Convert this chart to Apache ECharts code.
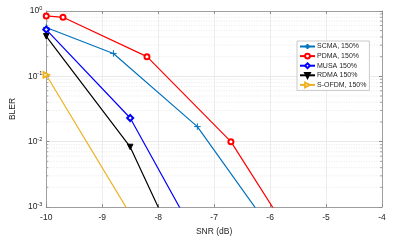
<!DOCTYPE html>
<html><head><meta charset="utf-8">
<script src="https://cdn.jsdelivr.net/npm/echarts@6/dist/echarts.min.js"></script>
<style>html,body{margin:0;padding:0;background:#fff}#c{width:410px;height:241px}</style>
</head><body><div id="c"></div>
<script>
var seriesNames = ['SCMA, 150%', 'PDMA, 150%', 'MUSA 150%', 'RDMA 150%', 'S-OFDM, 150%'];
var snrSCMA = [-10, -8.8, -7.3, -6.0];
var blerSCMA = [0.56, 0.224, 0.017, 0.00047];
var snrPDMA = [-10, -9.7, -8.2, -6.7, -5.7];
var blerPDMA = [0.84, 0.80, 0.20, 0.010, 0.00045];
var snrMUSA = [-10, -8.5, -7.5];
var blerMUSA = [0.52, 0.023, 0.00065];
var snrRDMA = [-10, -8.5, -7.5];
var blerRDMA = [0.41, 0.0083, 0.00012];
var snrSOFDM = [-10, -8.5];
var blerSOFDM = [0.105, 0.00078];
var xTicks = [-10, -9, -8, -7, -6, -5, -4];
var yMajor = [0.001, 0.01, 0.1, 1];
var yMinor = [];
[0.001, 0.01, 0.1].forEach(function (d) { for (var k = 2; k <= 9; k++) yMinor.push(+(d * k).toPrecision(3)); });

function pairs(xs, ys) { return xs.map(function (x, i) { return [x, ys[i]]; }); }
var txt = '#262626';
var axisCol = '#8c8c8c';
var font = 'Liberation Sans, Arial, sans-serif';

var chart = echarts.init(document.getElementById('c'), null, { renderer: 'canvas' });
var base = { type: 'line', symbolSize: 6, clip: true, emphasis: { disabled: true }, animation: false };
function mk(name, xs, ys, color, extra) {
  return Object.assign({}, base, { name: name, data: pairs(xs, ys), itemStyle: { color: color, borderColor: color, borderWidth: 1 }, lineStyle: { color: color, width: 1.2 } }, extra);
}
var option = {
  animation: false,
  grid: { left: 45, top: 11, right: 28, bottom: 27, show: false },
  legend: {
    data: seriesNames, orient: 'vertical', left: 297, top: 41,
    itemWidth: 15, itemHeight: 6, itemGap: 2.6, padding: [2, 3, 2, 2],
    borderColor: '#bdbdbd', borderWidth: 0.8, backgroundColor: '#fff',
    textStyle: { fontSize: 7, color: txt, fontFamily: font, padding: [0, 0, 0, -3] }
  },
  xAxis: [{
    type: 'value', min: -10, max: -4, interval: 1,
    axisLine: { lineStyle: { color: axisCol, width: 0.8 } },
    axisTick: { inside: true, length: 3, lineStyle: { color: axisCol } },
    axisLabel: { fontSize: 8.5, color: txt, fontFamily: font, margin: 6 },
    splitLine: { show: true, lineStyle: { color: '#e8e8e8', width: 0.8 } },
    name: 'SNR (dB)', nameLocation: 'middle', nameGap: 20,
    nameTextStyle: { fontSize: 8.5, color: txt, fontFamily: font }
  }, {
    type: 'value', min: -10, max: -4, interval: 1, position: 'top',
    axisLine: { lineStyle: { color: axisCol, width: 0.8 } },
    axisTick: { inside: true, length: 3, lineStyle: { color: axisCol } },
    axisLabel: { show: false }, splitLine: { show: false }
  }],
  yAxis: [{
    type: 'log', logBase: 10, min: 0.001, max: 1,
    axisLine: { show: true, lineStyle: { color: axisCol, width: 0.8 } },
    axisTick: { show: true, inside: true, length: 3, lineStyle: { color: axisCol } },
    splitLine: { show: true, lineStyle: { color: '#e3e3e3', width: 0.8 } },
    axisLabel: {
      margin: 4, fontFamily: font,
      formatter: function (v) { return '{b|10}{s|' + Math.round(Math.log10(v)) + '}'; },
      rich: { b: { fontSize: 8.5, color: txt, fontFamily: font }, s: { fontSize: 5.5, color: txt, fontFamily: font, verticalAlign: 'top', padding: [0, 0, 5, 0] } }
    },
    name: 'BLER', nameLocation: 'middle', nameGap: 22, nameRotate: 90,
    nameTextStyle: { fontSize: 8.5, color: txt, fontFamily: font }
  }, {
    type: 'log', logBase: 10, min: 0.001, max: 1, position: 'right',
    axisLine: { show: true, lineStyle: { color: axisCol, width: 0.8 } },
    axisTick: { show: true, inside: true, length: 3, lineStyle: { color: axisCol } },
    axisLabel: { show: false }, splitLine: { show: false }
  }],
  series: [
    {
      type: 'custom', name: 'minorGrid', silent: true, z: 1, clip: true,
      data: yMinor.map(function (v) { return [-10, v]; }),
      renderItem: function (params, api) {
        var v = api.value(1);
        var p0 = api.coord([-10, v]), p1 = api.coord([-4, v]);
        return {
          type: 'group', children: [
            { type: 'line', shape: { x1: p0[0], y1: p0[1], x2: p1[0], y2: p1[1] }, style: { stroke: '#dadada', lineWidth: 0.6, lineDash: [1, 1.5] } },
            { type: 'line', shape: { x1: p0[0], y1: p0[1], x2: p0[0] + 2, y2: p0[1] }, style: { stroke: axisCol, lineWidth: 0.8 } },
            { type: 'line', shape: { x1: p1[0] - 2, y1: p1[1], x2: p1[0], y2: p1[1] }, style: { stroke: axisCol, lineWidth: 0.8 } }
          ]
        };
      },
      encode: { x: 0, y: 1 }
    },
    mk(seriesNames[0], snrSCMA, blerSCMA, '#0072BD', { symbol: 'path://M5,0L5,10M0,5L10,5', symbolSize: 6.5 }),
    mk(seriesNames[1], snrPDMA, blerPDMA, '#FF0000', { symbol: 'emptyCircle', symbolSize: 5 }),
    mk(seriesNames[2], snrMUSA, blerMUSA, '#0000FF', { symbol: 'emptyDiamond', symbolSize: 6 }),
    mk(seriesNames[3], snrRDMA, blerRDMA, '#000000', { symbol: 'triangle', symbolRotate: 180, symbolSize: 5.5 }),
    mk(seriesNames[4], snrSOFDM, blerSOFDM, '#EDB120', { symbol: 'emptyTriangle', symbolRotate: -90, symbolSize: 5.5 })
  ]
};
chart.setOption(option);
</script></body></html>
